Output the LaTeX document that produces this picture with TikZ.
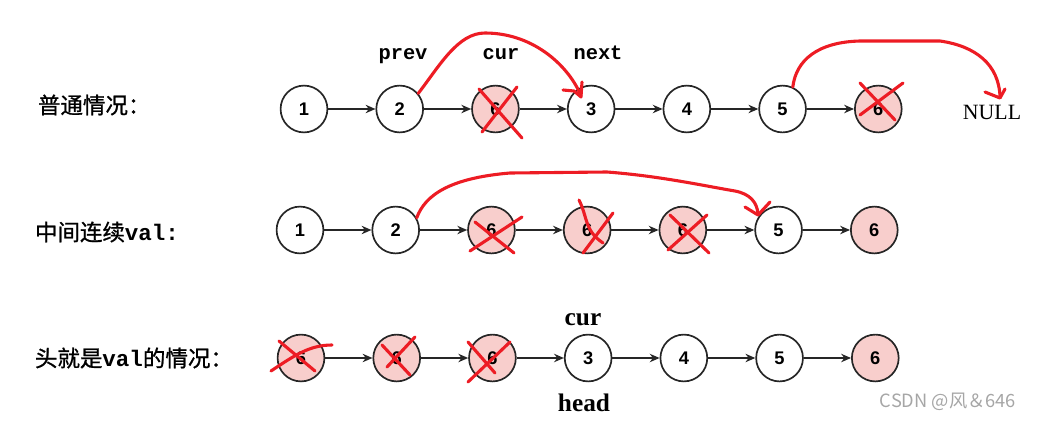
\documentclass[tikz,border=0pt]{standalone}
\usepackage{fontspec}
\setmainfont{Liberation Serif}
\setsansfont{Liberation Sans}
\setmonofont{Liberation Mono}
\newfontfamily\cjk[FakeBold=1]{Noto Sans CJK SC}
\newfontfamily\marktext{Noto Sans CJK SC}
\usetikzlibrary{positioning, arrows.meta}
\definecolor{penred}{RGB}{237,28,36}
\definecolor{delfill}{RGB}{248,206,204}

\begin{document}
\begin{tikzpicture}[
        x=0.025cm, y=-0.025cm,
        node distance=1.18cm,
        every node/.style={font=\sffamily\bfseries\fontsize{13}{15}\selectfont},
        listnode/.style={circle, draw=black!85, line width=1.2pt, fill=white, minimum size=1.17cm, inner sep=0pt},
        delnode/.style={listnode, fill=delfill},
        link/.style={-{Stealth[length=7pt,width=6pt]}, line width=1pt, black!85},
        caselabel/.style={anchor=west, font=\cjk\fontsize{16}{18}\selectfont},
        ptrlabel/.style={anchor=base, font=\ttfamily\bfseries\fontsize{14.5}{16}\selectfont},
        serlabel/.style={font=\rmfamily\fontsize{15.5}{18}\selectfont},
        pen/.style={draw=penred, line width=2.2pt, line cap=round, line join=round}
    ]
        \useasboundingbox (0,0) rectangle (1038,421);
        % Case labels
        \node[caselabel] (case1) at (33,105) {普通情况：};
        \node[caselabel] (case2) at (30,232) {中间连续{\ttfamily\bfseries val:}};
        \node[caselabel] (case3) at (30,358) {头就是{\ttfamily\bfseries val}的情况：};
        % Row 1: ordinary case
        \node[listnode] (a1) at (304,109) {1};
        \node[listnode, right=of a1] (a2) {2};
        \node[delnode, right=of a2] (a3) {6};
        \node[listnode, right=of a3] (a4) {3};
        \node[listnode, right=of a4] (a5) {4};
        \node[listnode, right=of a5] (a6) {5};
        \node[delnode, right=of a6] (a7) {6};
        % Row 2: consecutive vals in the middle
        \node[listnode] (b1) at (300,230) {1};
        \node[listnode, right=of b1] (b2) {2};
        \node[delnode, right=of b2] (b3) {6};
        \node[delnode, right=of b3] (b4) {6};
        \node[delnode, right=of b4] (b5) {6};
        \node[listnode, right=of b5] (b6) {5};
        \node[delnode, right=of b6] (b7) {6};
        % Row 3: val at the head
        \node[delnode] (c1) at (301,358) {6};
        \node[delnode, right=of c1] (c2) {6};
        \node[delnode, right=of c2] (c3) {6};
        \node[listnode, right=of c3] (c4) {3};
        \node[listnode, right=of c4] (c5) {4};
        \node[listnode, right=of c5] (c6) {5};
        \node[delnode, right=of c6] (c7) {6};
        % Pointer labels
        \node[ptrlabel] (prev) at (403,59) {prev};
        \node[ptrlabel] (cur) at (501,59) {cur};
        \node[ptrlabel] (next) at (598,59) {next};
        \node[serlabel] (null) at (992,112) {NULL};
        \node[serlabel, font=\rmfamily\bfseries\fontsize{18}{20}\selectfont] (curc) at (583,320) {cur};
        \node[serlabel, font=\rmfamily\bfseries\fontsize{18}{20}\selectfont] (head) at (584,403) {head};
        \node[font=\marktext\fontsize{13}{15}\selectfont, text=black!35] (mark) at (948,402) {CSDN @风＆646};
        % Links
        \draw[link] (a1) -- (a2);
        \draw[link] (a2) -- (a3);
        \draw[link] (a3) -- (a4);
        \draw[link] (a4) -- (a5);
        \draw[link] (a5) -- (a6);
        \draw[link] (a6) -- (a7);
        \draw[link] (b1) -- (b2);
        \draw[link] (b2) -- (b3);
        \draw[link] (b3) -- (b4);
        \draw[link] (b4) -- (b5);
        \draw[link] (b5) -- (b6);
        \draw[link] (b6) -- (b7);
        \draw[link] (c1) -- (c2);
        \draw[link] (c2) -- (c3);
        \draw[link] (c3) -- (c4);
        \draw[link] (c4) -- (c5);
        \draw[link] (c5) -- (c6);
        \draw[link] (c6) -- (c7);
        % Hand-drawn marks, row 1
        \draw[pen] (a2.40) .. controls (440,65) and (458,33) .. (485,33) .. controls (535,33) and (570,68) .. (581,96);
        \draw[pen] (563,90) -- (574,91) -- (581,97) -- (582,82);
        \draw[pen] (479,89) -- (522,138);
        \draw[pen] (482,132) -- (517,87);
        \draw[pen] (a6.65) .. controls (796,60) and (818,42) .. (860,41) -- (940,41) .. controls (975,46) and (999,64) .. (1000,97);
        \draw[pen] (985,92) -- (1000,98) -- (1005,89);
        \draw[pen] (860,83) -- (895,120);
        \draw[pen] (860,115) -- (903,83);
        % Hand-drawn marks, row 2
        \draw[pen] (b2.30) .. controls (425,195) and (450,178) .. (510,173) -- (607,172) .. controls (660,176) and (705,186) .. (735,191) .. controls (750,194) and (757,202) .. (758,214);
        \draw[pen] (745,207) -- (758,215) -- (770,202);
        \draw[pen] (475,222) -- (514,253);
        \draw[pen] (470,251) -- (522,217);
        \draw[pen] (579,200) .. controls (588,218) and (584,230) .. (603,243);
        \draw[pen] (613,213) -- (583,253);
        \draw[pen] (670,215) -- (709,253);
        \draw[pen] (707,215) -- (668,250);
        % Hand-drawn marks, row 3
        \draw[pen] (279,341) -- (315,371);
        \draw[pen] (271,371) .. controls (295,355) and (310,345) .. (332,345);
        \draw[pen] (382,345) -- (410,375);
        \draw[pen] (387,367) -- (415,337);
        \draw[pen] (468,342) -- (495,373);
        \draw[pen] (468,382) -- (510,342);
\end{tikzpicture}
\end{document}
